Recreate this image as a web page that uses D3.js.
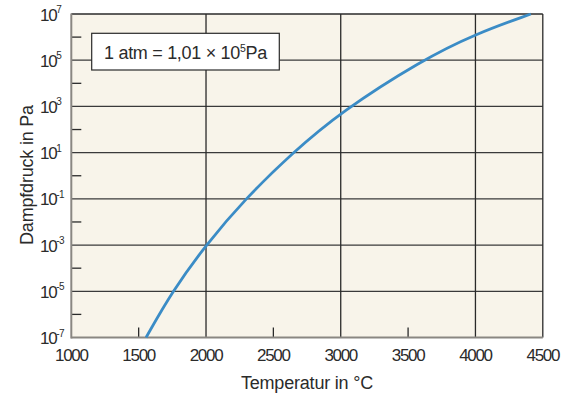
<!DOCTYPE html>
<html>
  <head>
    <meta charset="utf-8">
    <title>Dampfdruck</title>
    <script src="https://cdn.jsdelivr.net/npm/d3@7"></script>
    <style>
      body { margin: 0; background: #fff; }
      text { font-family: "Liberation Sans", Arial, sans-serif; fill: #2b2b2b; }
    </style>
  </head>

  <body>
    <svg id="chart" width="568" height="394"></svg>

    <script>
      // data
      var temps = [1555, 1750, 1998, 2290, 2644, 3000, 3601, 4000, 4411];
      var logPressure = [-7, -5, -3, -1, 1, 2.76, 5, 6.14, 7];
      var xTicks = [1000, 1500, 2000, 2500, 3000, 3500, 4000, 4500];
      var xGrid = [2000, 3000, 4000];
      var xMinor = [1500, 2500, 3500];
      var yExponents = [7, 5, 3, 1, -1, -3, -5, -7];
      var yMinorExp = [6, 4, 2, 0, -2, -4, -6];

      var margin = {left: 71.3, right: 25.2, top: 14, bottom: 56.5};
      var width = 568, height = 394;

      var chart = d3.select("#chart");

      var x = d3.scaleLinear()
        .domain([1000, 4500])
        .range([margin.left, width - margin.right]);

      var y = d3.scaleLog()
        .domain([1e-7, 1e7])
        .range([height - margin.bottom, margin.top]);

      // background
      chart.append("rect")
        .attr("x", x(1000)).attr("y", y(1e7))
        .attr("width", x(4500) - x(1000))
        .attr("height", y(1e-7) - y(1e7))
        .attr("fill", "#f8f4ea");

      // grid
      chart.selectAll(".hgrid")
          .data(yExponents.filter(function(e) { return e > -7 && e < 7; }))
        .enter().append("line")
          .attr("x1", x(1000)).attr("x2", x(4500))
          .attr("y1", function(e) { return y(Math.pow(10, e)); })
          .attr("y2", function(e) { return y(Math.pow(10, e)); })
          .attr("stroke", "#3a3a3a").attr("stroke-width", 1.3);

      chart.selectAll(".vgrid")
          .data(xGrid)
        .enter().append("line")
          .attr("x1", function(d) { return x(d); })
          .attr("x2", function(d) { return x(d); })
          .attr("y1", y(1e7)).attr("y2", y(1e-7))
          .attr("stroke", "#2a2a2a").attr("stroke-width", 1.3);

      // minor ticks
      chart.selectAll(".ymin")
          .data(yMinorExp)
        .enter().append("line")
          .attr("x1", x(1000)).attr("x2", x(1000) + 10)
          .attr("y1", function(e) { return y(Math.pow(10, e)); })
          .attr("y2", function(e) { return y(Math.pow(10, e)); })
          .attr("stroke", "#2a2a2a").attr("stroke-width", 1.3);

      chart.selectAll(".xmin")
          .data(xMinor)
        .enter().append("line")
          .attr("x1", function(d) { return x(d); })
          .attr("x2", function(d) { return x(d); })
          .attr("y1", y(1e-7)).attr("y2", y(1e-7) - 10)
          .attr("stroke", "#2a2a2a").attr("stroke-width", 1.3);

      // frame: top and right dark, left and bottom grey
      chart.append("line")
        .attr("x1", x(1000)).attr("x2", x(4500))
        .attr("y1", y(1e7)).attr("y2", y(1e7))
        .attr("stroke", "#2a2a2a").attr("stroke-width", 1.3);
      chart.append("line")
        .attr("x1", x(4500)).attr("x2", x(4500))
        .attr("y1", y(1e7)).attr("y2", y(1e-7))
        .attr("stroke", "#2a2a2a").attr("stroke-width", 1.3);
      chart.append("line")
        .attr("x1", x(1000)).attr("x2", x(1000))
        .attr("y1", y(1e7) - 0.6).attr("y2", y(1e-7) + 0.9)
        .attr("stroke", "#8a8782").attr("stroke-width", 2);
      chart.append("line")
        .attr("x1", x(1000)).attr("x2", x(4500))
        .attr("y1", y(1e-7)).attr("y2", y(1e-7))
        .attr("stroke", "#8a8782").attr("stroke-width", 2);

      // curve
      var points = temps.map(function(t, i) {
        return [t, Math.pow(10, logPressure[i])];
      });

      var line = d3.line()
        .x(function(d) { return x(d[0]); })
        .y(function(d) { return y(d[1]); })
        .curve(d3.curveBasis);

      chart.append("path")
        .datum(points)
        .attr("d", line)
        .attr("fill", "none")
        .attr("stroke", "#3b8cc6")
        .attr("stroke-width", 2.8);

      // x tick labels
      chart.selectAll(".xlab")
          .data(xTicks)
        .enter().append("text")
          .attr("x", function(d) { return x(d); })
          .attr("y", y(1e-7) + 23)
          .attr("text-anchor", "middle")
          .style("font-size", "17px")
          .style("letter-spacing", "-1.3px")
          .text(function(d) { return d; });

      // y tick labels: 10 with superscript exponent
      chart.selectAll(".ylab")
          .data(yExponents)
        .enter().append("text")
          .attr("x", x(1000) - 15)
          .attr("y", function(e) { return y(Math.pow(10, e)) + 6.5; })
          .attr("text-anchor", "end")
          .style("font-size", "17px")
          .style("letter-spacing", "-1.3px")
          .text("10");

      chart.selectAll(".yexp")
          .data(yExponents)
        .enter().append("text")
          .attr("x", x(1000) - 15)
          .attr("y", function(e) { return y(Math.pow(10, e)) - 1; })
          .style("font-size", "10px")
          .style("letter-spacing", "-0.6px")
          .text(function(e) { return e < 0 ? "-" + (-e) : e; });

      // axis titles
      chart.append("text")
        .attr("x", 307)
        .attr("y", 389)
        .attr("text-anchor", "middle")
        .style("font-size", "18px")
        .style("letter-spacing", "-0.2px")
        .text("Temperatur in °C");

      chart.append("text")
        .attr("transform", "translate(33," + 175 + ") rotate(-90)")
        .attr("text-anchor", "middle")
        .style("font-size", "18px")
        .style("letter-spacing", "-0.2px")
        .text("Dampfdruck in Pa");

      // note box
      chart.append("rect")
        .attr("x", 91.7).attr("y", 33.3)
        .attr("width", 187.6).attr("height", 36.7)
        .attr("fill", "#ffffff")
        .attr("stroke", "#2a2a2a").attr("stroke-width", 1.2);

      var note = chart.append("text")
        .attr("x", 185.5)
        .attr("y", 58.5)
        .attr("text-anchor", "middle")
        .style("font-size", "18px")
        .style("letter-spacing", "-0.3px");
      note.append("tspan").text("1 atm = 1,01 × 10");
      note.append("tspan").attr("dy", -7).style("font-size", "10.5px").text("5");
      note.append("tspan").attr("dy", 7).text("Pa");
    </script>
  </body>
</html>
